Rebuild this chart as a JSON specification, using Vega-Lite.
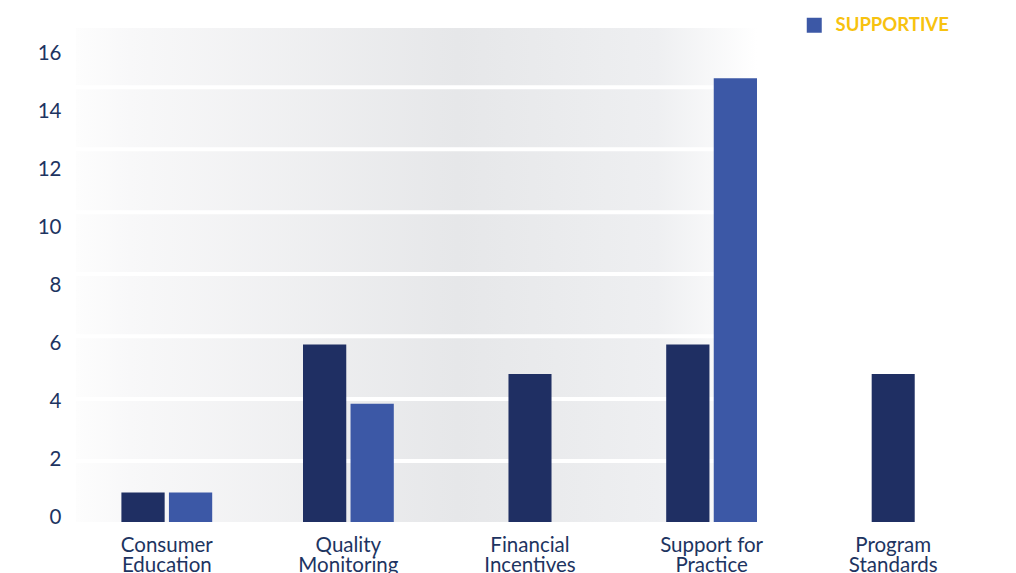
{
  "$schema": "https://vega.github.io/schema/vega-lite/v6.json",
  "width": 908,
  "height": 494,
  "autosize": {"type": "none"},
  "padding": {"left": 76, "top": 28, "right": 32, "bottom": 51},
  "background": "white",
  "config": {"view": {"stroke": null}, "font": "Lato"},
  "resolve": {"axis": {"y": "independent"}},
  "datasets": {
    "bars": [
      {"category": "Consumer Education", "series": "REQUIRED", "value": 1},
      {"category": "Consumer Education", "series": "SUPPORTIVE", "value": 1},
      {"category": "Quality Monitoring", "series": "REQUIRED", "value": 6},
      {"category": "Quality Monitoring", "series": "SUPPORTIVE", "value": 4},
      {"category": "Financial Incentives", "series": "REQUIRED", "value": 5},
      {"category": "Support for Practice", "series": "REQUIRED", "value": 6},
      {"category": "Support for Practice", "series": "SUPPORTIVE", "value": 15},
      {"category": "Program Standards", "series": "REQUIRED", "value": 5}
    ],
    "grid": [
      {"y": 2.06}, {"y": 4.16}, {"y": 6.28}, {"y": 8.38}, {"y": 10.47}, {"y": 12.6}, {"y": 14.7}
    ],
    "panel": [{"top": 16.7}]
  },
  "layer": [
    {
      "data": {"name": "panel"},
      "mark": {
        "type": "rect",
        "color": {
          "gradient": "linear",
          "x1": 0, "x2": 1, "y1": 0, "y2": 0,
          "stops": [
            {"offset": 0, "color": "#fdfdfd"},
            {"offset": 0.06, "color": "#f8f8f9"},
            {"offset": 0.42, "color": "#e6e7e9"},
            {"offset": 0.64, "color": "#eeeff1"},
            {"offset": 0.75, "color": "#ffffff"},
            {"offset": 1, "color": "#ffffff"}
          ]
        }
      },
      "encoding": {
        "y": {"field": "top", "type": "quantitative", "scale": {"domain": [0, 16.7], "nice": false, "zero": true}, "axis": null},
        "y2": {"datum": 0}
      }
    },
    {
      "data": {"name": "grid"},
      "mark": {"type": "rule", "color": "#ffffff", "strokeWidth": 4},
      "encoding": {
        "y": {"field": "y", "type": "quantitative", "axis": null}
      }
    },
    {
      "data": {"name": "bars"},
      "transform": [{"filter": {"field": "category", "oneOf": ["Consumer Education", "Quality Monitoring", "Support for Practice"]}}],
      "mark": {"type": "bar"},
      "encoding": {
        "x": {
          "field": "category", "type": "nominal",
          "sort": ["Consumer Education", "Quality Monitoring", "Financial Incentives", "Support for Practice", "Program Standards"],
          "scale": {"domain": ["Consumer Education", "Quality Monitoring", "Financial Incentives", "Support for Practice", "Program Standards"], "paddingInner": 0.5, "paddingOuter": 0.25},
          "axis": {
            "title": null, "labelAngle": 0, "domain": false, "ticks": false,
            "labelPadding": 13, "labelFontSize": 20.5, "labelColor": "#1d3461", "labelFont": "Lato",
            "labelLineHeight": 20, "labelBaseline": "top",
            "labelExpr": "datum.label == 'Support for Practice' ? ['Support for', 'Practice'] : split(datum.label, ' ')"
          }
        },
        "xOffset": {"field": "series", "type": "nominal", "scale": {"domain": ["REQUIRED", "SUPPORTIVE"], "paddingInner": 0.09}},
        "y": {
          "field": "value", "type": "quantitative",
          "axis": {
            "title": null, "values": [0, 2, 4, 6, 8, 10, 12, 14, 16], "grid": false, "domain": false, "ticks": false,
            "labelPadding": 15, "labelFontSize": 20.5, "labelColor": "#1d3461", "labelFont": "Lato",
            "labelOffset": {"expr": "-4.6 + 0.58 * datum.value"}
          }
        },
        "color": {
          "field": "series", "type": "nominal",
          "scale": {"domain": ["REQUIRED", "SUPPORTIVE"], "range": ["#1f2f63", "#3c58a6"]},
          "legend": {
            "values": ["SUPPORTIVE"], "title": null, "orient": "none", "legendX": 729, "legendY": -12,
            "symbolType": "square", "symbolSize": 225, "symbolOpacity": 1, "symbolStrokeWidth": 0,
            "labelFont": "Lato", "labelFontWeight": "bold", "labelFontSize": 18.5, "labelColor": "#f7c20f", "labelOffset": 12
          }
        }
      }
    },
    {
      "data": {"name": "bars"},
      "transform": [{"filter": {"field": "category", "oneOf": ["Financial Incentives", "Program Standards"]}}],
      "mark": {"type": "bar", "width": {"band": 0.474}},
      "encoding": {
        "x": {"field": "category", "type": "nominal", "sort": ["Consumer Education", "Quality Monitoring", "Financial Incentives", "Support for Practice", "Program Standards"]},
        "y": {"field": "value", "type": "quantitative", "axis": null},
        "color": {"field": "series", "type": "nominal"}
      }
    }
  ]
}
